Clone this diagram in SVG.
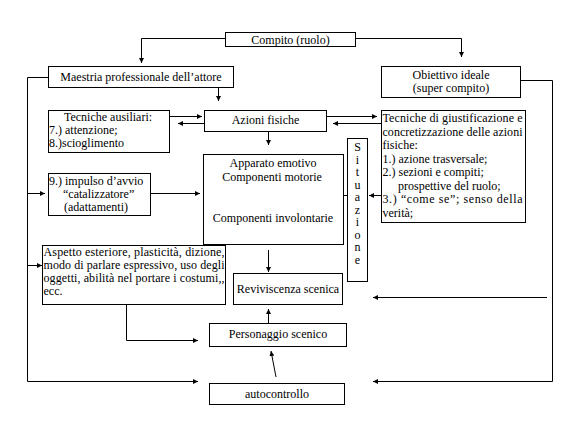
<svg xmlns="http://www.w3.org/2000/svg" width="576" height="429" viewBox="0 0 576 429">
<defs>
<style>
.box{fill:#fff;stroke:#000;stroke-width:1}
.c{text-anchor:middle}
.ln{fill:none;stroke:#000;stroke-width:1}
</style>
<marker id="ah" markerUnits="userSpaceOnUse" markerWidth="6" markerHeight="6" refX="5" refY="2.5" orient="auto">
<path d="M0,0 L5,2.5 L0,5 z" fill="#000"/>
</marker>
</defs>
<rect width="576" height="429" fill="#fff"/>
<g id="connectors">
<polyline class="ln" points="225,38.5 141.5,38.5 141.5,63" marker-end="url(#ah)"/>
<polyline class="ln" points="355,38.5 461.5,38.5 461.5,57" marker-end="url(#ah)"/>
<line class="ln" x1="218.5" y1="87" x2="218.5" y2="101" marker-end="url(#ah)"/>
<polyline class="ln" points="48,77.5 27.5,77.5 27.5,381.5 198,381.5" marker-end="url(#ah)"/>
<polyline class="ln" points="520,80.5 552.5,80.5 552.5,381.5 373,381.5" marker-end="url(#ah)"/>
<line class="ln" x1="547" y1="297.5" x2="373" y2="297.5" marker-end="url(#ah)"/>
<line class="ln" x1="169" y1="116.5" x2="202" y2="116.5" marker-end="url(#ah)"/>
<line class="ln" x1="204" y1="123.5" x2="178" y2="123.5" marker-end="url(#ah)"/>
<line class="ln" x1="326" y1="116.5" x2="377" y2="116.5" marker-end="url(#ah)"/>
<line class="ln" x1="381" y1="123.5" x2="333" y2="123.5" marker-end="url(#ah)"/>
<line class="ln" x1="268.5" y1="131" x2="268.5" y2="145" marker-end="url(#ah)"/>
<line class="ln" x1="27.5" y1="193.5" x2="45" y2="193.5" marker-end="url(#ah)"/>
<line class="ln" x1="150" y1="193.5" x2="200" y2="193.5" marker-end="url(#ah)"/>
<line class="ln" x1="381" y1="195.5" x2="369" y2="195.5" marker-end="url(#ah)"/>
<line class="ln" x1="347" y1="195.5" x2="334" y2="195.5" marker-end="url(#ah)"/>
<line class="ln" x1="232.5" y1="180" x2="232.5" y2="200" marker-end="url(#ah)"/>
<line class="ln" x1="282.5" y1="197" x2="282.5" y2="182" marker-end="url(#ah)"/>
<line class="ln" x1="27.5" y1="265.5" x2="42" y2="265.5" marker-end="url(#ah)"/>
<line class="ln" x1="268.5" y1="250" x2="268.5" y2="272" marker-end="url(#ah)"/>
<polyline class="ln" points="126.5,289 126.5,340.5 198,340.5" marker-end="url(#ah)"/>
<line class="ln" x1="268.5" y1="323" x2="268.5" y2="309" marker-end="url(#ah)"/>
<line class="ln" x1="276" y1="377" x2="271" y2="351" marker-end="url(#ah)"/>
</g>
<g font-family="Liberation Serif, Times New Roman, serif" font-size="12" fill="#000">
<g id="compito">
<rect class="box" x="225.5" y="32.5" width="130" height="14"/>
<text class="c" x="290.5" y="43.5">Compito (ruolo)</text>
</g>
<g id="maestria">
<rect class="box" x="48.5" y="66.5" width="185" height="21"/>
<text class="c" x="141" y="80.5">Maestria professionale dell’attore</text>
</g>
<g id="obiettivo">
<rect class="box" x="381.5" y="66.5" width="139" height="31"/>
<text class="c" x="451" y="79">Obiettivo ideale</text>
<text class="c" x="451" y="92">(super compito)</text>
</g>
<g id="tecniche-ausiliari">
<rect class="box" x="48.5" y="110.5" width="121" height="42"/>
<text class="c" x="108" y="121">Tecniche ausiliari:</text>
<text x="49" y="134">7.) attenzione;</text>
<text x="49" y="147">8.)scioglimento</text>
</g>
<g id="azioni">
<rect class="box" x="204.5" y="110.5" width="122" height="21"/>
<text class="c" x="265.5" y="124">Azioni fisiche</text>
</g>
<g id="tecniche-giustificazione">
<rect class="box" x="381.5" y="110.5" width="144" height="112"/>
<text x="382.5" y="122" textLength="140" lengthAdjust="spacing">Tecniche di giustificazione e</text>
<text x="382.5" y="135.5" textLength="140" lengthAdjust="spacing">concretizzazione delle azioni</text>
<text x="382.5" y="149">fisiche:</text>
<text x="382.5" y="162.5">1.) azione trasversale;</text>
<text x="382.5" y="176">2.) sezioni e compiti;</text>
<text x="398" y="189.5">prospettive del ruolo;</text>
<text x="382.5" y="203" textLength="140" lengthAdjust="spacing">3.) “come se”; senso della</text>
<text x="382.5" y="216.5">verità;</text>
</g>
<g id="situazione">
<rect class="box" x="347.5" y="138.5" width="20" height="143"/>
<text class="c" x="357.5" y="151">S</text>
<text class="c" x="357.5" y="163.5">i</text>
<text class="c" x="357.5" y="176">t</text>
<text class="c" x="357.5" y="188.5">u</text>
<text class="c" x="357.5" y="201">a</text>
<text class="c" x="357.5" y="213.5">z</text>
<text class="c" x="357.5" y="226">i</text>
<text class="c" x="357.5" y="238.5">o</text>
<text class="c" x="357.5" y="251">n</text>
<text class="c" x="357.5" y="263.5">e</text>
</g>
<g id="apparato">
<rect class="box" x="203.5" y="154.5" width="140" height="90"/>
<text class="c" x="273" y="167">Apparato emotivo</text>
<text class="c" x="272" y="181">Componenti motorie</text>
<text class="c" x="273" y="222">Componenti involontarie</text>
</g>
<g id="impulso">
<rect class="box" x="48.5" y="173.5" width="102" height="42"/>
<text x="49" y="185">9.) impulso d’avvio</text>
<text x="63" y="198">“catalizzatore”</text>
<text x="64" y="211">(adattamenti)</text>
</g>
<g id="aspetto">
<rect class="box" x="42.5" y="245.5" width="183" height="59"/>
<text x="43.5" y="256" textLength="181" lengthAdjust="spacing">Aspetto esteriore, plasticità, dizione,</text>
<text x="43.5" y="269" textLength="181" lengthAdjust="spacing">modo di parlare espressivo, uso degli</text>
<text x="43.5" y="282" textLength="181" lengthAdjust="spacing">oggetti, abilità nel portare i costumi,,</text>
<text x="43.5" y="295">ecc.</text>
</g>
<g id="reviviscenza">
<rect class="box" x="233.5" y="273.5" width="109" height="31"/>
<text class="c" x="288" y="293">Reviviscenza scenica</text>
</g>
<g id="personaggio">
<rect class="box" x="209.5" y="323.5" width="137" height="23"/>
<text class="c" x="278" y="338">Personaggio scenico</text>
</g>
<g id="autocontrollo">
<rect class="box" x="209.5" y="383.5" width="135" height="21"/>
<text class="c" x="277" y="397.5">autocontrollo</text>
</g>
</g>
</svg>
